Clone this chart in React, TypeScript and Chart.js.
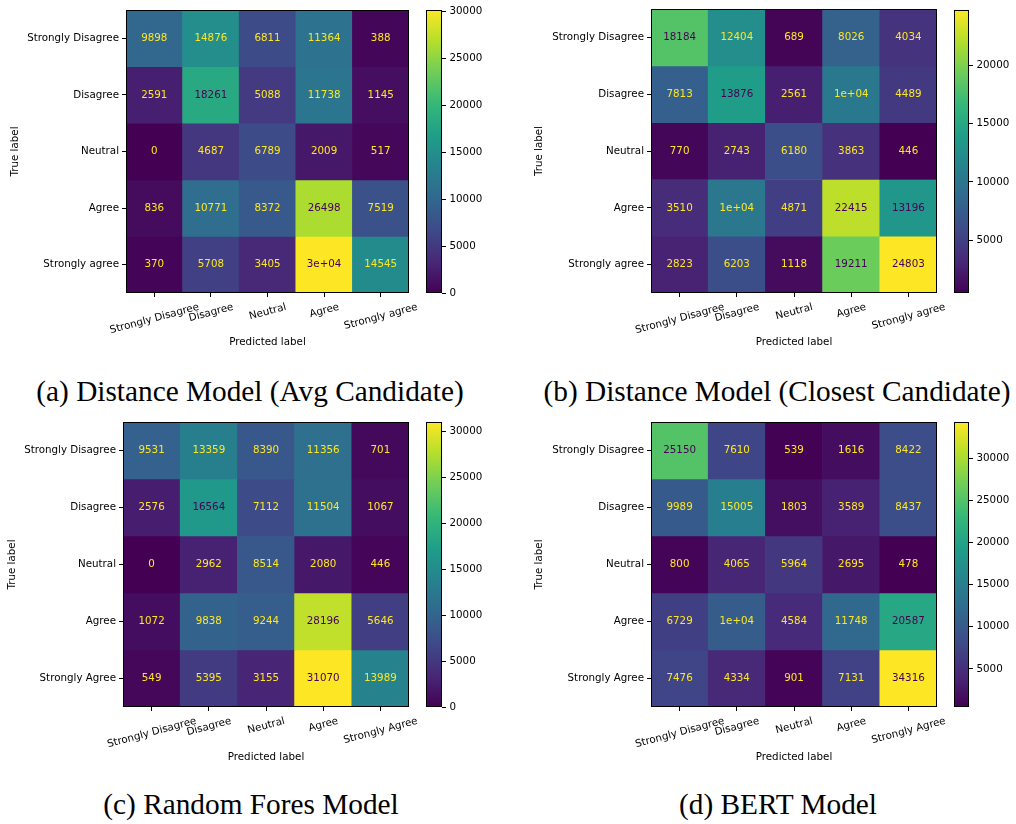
import React, { useEffect, useRef } from "react";
import { Chart, registerables } from "chart.js";
Chart.register(...registerables);

// ---------- data ----------
const labelsLower = ["Strongly Disagree", "Disagree", "Neutral", "Agree", "Strongly agree"];
const labelsUpper = ["Strongly Disagree", "Disagree", "Neutral", "Agree", "Strongly Agree"];

// rows = true label, columns = predicted label
const matrixAvg = [
  [9898, 14876, 6811, 11364, 388],
  [2591, 18261, 5088, 11738, 1145],
  [0, 4687, 6789, 2009, 517],
  [836, 10771, 8372, 26498, 7519],
  [370, 5708, 3405, 30180, 14545],
];
const matrixClosest = [
  [18184, 12404, 689, 8026, 4034],
  [7813, 13876, 2561, 10230, 4489],
  [770, 2743, 6180, 3863, 446],
  [3510, 10150, 4871, 22415, 13196],
  [2823, 6203, 1118, 19211, 24803],
];
const matrixForest = [
  [9531, 13359, 8390, 11356, 701],
  [2576, 16564, 7112, 11504, 1067],
  [0, 2962, 8514, 2080, 446],
  [1072, 9838, 9244, 28196, 5646],
  [549, 5395, 3155, 31070, 13989],
];
const matrixBert = [
  [25150, 7610, 539, 1616, 8422],
  [9989, 15005, 1803, 3589, 8437],
  [800, 4065, 5964, 2695, 478],
  [6729, 10300, 4584, 11748, 20587],
  [7476, 4334, 901, 7131, 34316],
];

const cbTicksAvg = [0, 5000, 10000, 15000, 20000, 25000, 30000];
const cbTicksClosest = [5000, 10000, 15000, 20000];
const cbTicksForest = [0, 5000, 10000, 15000, 20000, 25000, 30000];
const cbTicksBert = [5000, 10000, 15000, 20000, 25000, 30000];

const captionAvg = "(a) Distance Model (Avg Candidate)";
const captionClosest = "(b) Distance Model (Closest Candidate)";
const captionForest = "(c) Random Fores Model";
const captionBert = "(d) BERT Model";

// ---------- style ----------
const FONT = "DejaVu Sans";
const FS = 10.3;
const ROT = (15 * Math.PI) / 180;
const VIRIDIS = ["#440154", "#482878", "#3E4A89", "#31688E", "#26828E", "#1F9E89", "#35B779", "#6DCD59", "#B4DE2C", "#FDE725"];

function hexToRgb(h: string) {
  return [parseInt(h.slice(1, 3), 16), parseInt(h.slice(3, 5), 16), parseInt(h.slice(5, 7), 16)];
}
function viridis(t: number) {
  t = Math.max(0, Math.min(1, t));
  const n = VIRIDIS.length - 1;
  const p = t * n;
  const i = Math.min(Math.floor(p), n - 1);
  const f = p - i;
  const a = hexToRgb(VIRIDIS[i]);
  const b = hexToRgb(VIRIDIS[i + 1]);
  const c = a.map((v, k) => Math.round(v + (b[k] - v) * f));
  return `rgb(${c[0]},${c[1]},${c[2]})`;
}

// sklearn ConfusionMatrixDisplay formatting (".2g" unless "d" is shorter)
function fmtCell(v: number) {
  const d = String(Math.round(v));
  let g: string;
  if (v === 0) g = "0";
  else {
    let e = Math.floor(Math.log10(Math.abs(v)));
    let m = Math.round((v / Math.pow(10, e)) * 10) / 10;
    if (m >= 10) {
      m /= 10;
      e += 1;
    }
    if (e < -4 || e >= 2) {
      const ms = m.toFixed(1).replace(/\.0$/, "");
      g = ms + "e" + (e < 0 ? "-" : "+") + String(Math.abs(e)).padStart(2, "0");
    } else g = String(Number(v.toPrecision(2)));
  }
  return d.length < g.length ? d : g;
}

type HeatGeom = {
  left: number; top: number; width: number; height: number;
  padTop: number; padRight: number; yAxisW: number; xAxisH: number;
  yTitlePad: number; xTitlePad: number;
};
type CbGeom = {
  left: number; top: number; width: number; height: number;
  padLeft: number; padTop: number; padBottom: number; axisW: number;
};

function ChartCanvas({ left, top, width, height, makeConfig }: any) {
  const ref = useRef<HTMLCanvasElement>(null);
  useEffect(() => {
    const chart = new Chart(ref.current as HTMLCanvasElement, makeConfig());
    return () => chart.destroy();
  }, []);
  return (
    <canvas
      ref={ref}
      width={width}
      height={height}
      style={{ position: "absolute", left, top, width, height }}
    />
  );
}

function heatConfig(matrix: number[][], rowLabels: string[], colLabels: string[], g: HeatGeom) {
  const flat = matrix.flat();
  const vmin = Math.min(...flat);
  const vmax = Math.max(...flat);
  const thresh = (vmin + vmax) / 2;
  const font = { family: FONT, size: FS };
  const plugin = {
    id: "heatExtras",
    afterDatasetsDraw(chart: any) {
      const ctx = chart.ctx;
      ctx.save();
      ctx.font = `${FS}px ${FONT}`;
      ctx.textAlign = "center";
      ctx.textBaseline = "middle";
      chart.data.datasets.forEach((_: any, i: number) => {
        const meta = chart.getDatasetMeta(i);
        meta.data.forEach((el: any, j: number) => {
          const v = matrix[i][j];
          const p = el.getCenterPoint();
          ctx.fillStyle = v < thresh ? viridis(1) : viridis(0);
          ctx.fillText(fmtCell(v), p.x, p.y);
        });
      });
      const a = chart.chartArea;
      ctx.strokeStyle = "#000";
      ctx.lineWidth = 1;
      ctx.strokeRect(Math.round(a.left) + 0.5, Math.round(a.top) + 0.5, Math.round(a.right - a.left) - 1, Math.round(a.bottom - a.top) - 1);
      ctx.restore();
    },
    afterDraw(chart: any) {
      const ctx = chart.ctx;
      const xs = chart.scales.x;
      ctx.save();
      ctx.font = `${FS}px ${FONT}`;
      ctx.fillStyle = "#000";
      ctx.textAlign = "center";
      ctx.textBaseline = "alphabetic";
      colLabels.forEach((lab, j) => {
        const x = xs.getPixelForTick(j);
        const w = ctx.measureText(lab).width;
        const h = FS * 1.164;
        const bh = w * Math.sin(ROT) + h * Math.cos(ROT);
        const cy = chart.chartArea.bottom + 7.3 + bh / 2;
        ctx.save();
        ctx.translate(x, cy);
        ctx.rotate(-ROT);
        ctx.fillText(lab, 0, FS * 0.346);
        ctx.restore();
      });
      ctx.restore();
    },
  };
  return {
    type: "bar",
    data: {
      labels: colLabels,
      datasets: matrix.map((row, i) => ({
        data: row.map(() => [i, i + 1]),
        backgroundColor: row.map((v) => viridis((v - vmin) / (vmax - vmin))),
        borderWidth: 0,
        grouped: false,
        barPercentage: 1,
        categoryPercentage: 1,
      })),
    },
    options: {
      responsive: false,
      animation: false,
      events: [],
      layout: { padding: { left: 0, top: g.padTop, right: g.padRight, bottom: 0 } },
      plugins: { legend: { display: false }, tooltip: { enabled: false } },
      scales: {
        x: {
          type: "category",
          offset: true,
          grid: { offset: false, drawOnChartArea: false, drawTicks: true, tickLength: 4, color: "#000", lineWidth: 1 },
          border: { display: false },
          ticks: { display: false },
          title: { display: true, text: "Predicted label", color: "#000", font, padding: { top: 0, bottom: g.xTitlePad } },
          afterFit: (s: any) => {
            s.height = g.xAxisH;
          },
        },
        y: {
          type: "linear",
          min: 0,
          max: rowLabels.length,
          reverse: true,
          afterBuildTicks: (s: any) => {
            s.ticks = rowLabels.map((_, i) => ({ value: i + 0.5 }));
          },
          ticks: {
            autoSkip: false,
            color: "#000",
            font,
            padding: 3,
            callback: (v: any) => rowLabels[Math.floor(Number(v))],
          },
          grid: { drawOnChartArea: false, drawTicks: true, tickLength: 4, color: "#000", lineWidth: 1 },
          border: { display: false },
          title: { display: true, text: "True label", color: "#000", font, padding: { top: g.yTitlePad, bottom: 0 } },
          afterFit: (s: any) => {
            s.width = g.yAxisW;
          },
        },
      },
    },
    plugins: [plugin],
  };
}

function cbConfig(matrix: number[][], ticks: number[], g: CbGeom) {
  const flat = matrix.flat();
  const vmin = Math.min(...flat);
  const vmax = Math.max(...flat);
  const font = { family: FONT, size: FS };
  const frame = {
    id: "cbFrame",
    afterDatasetsDraw(chart: any) {
      const ctx = chart.ctx;
      const a = chart.chartArea;
      ctx.save();
      ctx.strokeStyle = "#000";
      ctx.lineWidth = 1;
      ctx.strokeRect(Math.round(a.left) + 0.5, Math.round(a.top) + 0.5, Math.round(a.right - a.left) - 1, Math.round(a.bottom - a.top) - 1);
      ctx.restore();
    },
  };
  return {
    type: "bar",
    data: {
      labels: [""],
      datasets: [
        {
          data: [[vmin, vmax]],
          backgroundColor: (c: any) => {
            const ch = c.chart;
            const ys = ch.scales.y;
            if (!ys || !ch.chartArea) return "rgba(0,0,0,0)";
            const y0 = ys.getPixelForValue(vmin);
            const y1 = ys.getPixelForValue(vmax);
            const grad = ch.ctx.createLinearGradient(0, y0, 0, y1);
            VIRIDIS.forEach((col, k) => grad.addColorStop(k / (VIRIDIS.length - 1), col));
            return grad;
          },
          borderWidth: 0,
          barPercentage: 1,
          categoryPercentage: 1,
        },
      ],
    },
    options: {
      responsive: false,
      animation: false,
      events: [],
      layout: { padding: { left: g.padLeft, top: g.padTop, right: 0, bottom: g.padBottom } },
      plugins: { legend: { display: false }, tooltip: { enabled: false } },
      scales: {
        x: { display: false },
        y: {
          position: "right",
          min: vmin,
          max: vmax,
          afterBuildTicks: (s: any) => {
            s.ticks = ticks.map((v) => ({ value: v }));
          },
          ticks: { color: "#000", font, padding: 3.5, callback: (v: any) => String(v) },
          grid: { drawOnChartArea: false, drawTicks: true, tickLength: 4, color: "#000", lineWidth: 1 },
          border: { display: false },
          afterFit: (s: any) => {
            s.width = g.axisW;
          },
        },
      },
    },
    plugins: [frame],
  };
}

function Panel({ matrix, labels, ticks, heat, cb }: any) {
  return (
    <>
      <ChartCanvas left={heat.left} top={heat.top} width={heat.width} height={heat.height}
        makeConfig={() => heatConfig(matrix, labels, labels, heat)} />
      <ChartCanvas left={cb.left} top={cb.top} width={cb.width} height={cb.height}
        makeConfig={() => cbConfig(matrix, ticks, cb)} />
    </>
  );
}

function Caption({ text, cx, cy }: { text: string; cx: number; cy: number }) {
  return (
    <div
      style={{
        position: "absolute",
        left: cx - 260,
        top: cy - 16,
        width: 520,
        height: 32,
        lineHeight: "32px",
        textAlign: "center",
        fontFamily: "'Liberation Serif', serif",
        fontSize: 29.3,
        color: "#000",
        whiteSpace: "nowrap",
      }}
    >
      {text}
    </div>
  );
}

const geomA = {
  heat: { left: 0, top: 0, width: 420, height: 360, padTop: 10, padRight: 11, yAxisW: 126, xAxisH: 67, yTitlePad: 8.8, xTitlePad: 11.8 },
  cb: { left: 420, top: 0, width: 80, height: 360, padLeft: 6, padTop: 10, padBottom: 67, axisW: 58 },
};
const geomB = {
  heat: { left: 500, top: 0, width: 450, height: 360, padTop: 6, padRight: 13, yAxisW: 151, xAxisH: 67, yTitlePad: 33.3, xTitlePad: 11.8 },
  cb: { left: 950, top: 0, width: 66, height: 360, padLeft: 4, padTop: 6, padBottom: 67, axisW: 47 },
};
const geomC = {
  heat: { left: 0, top: 410, width: 420, height: 360, padTop: 12, padRight: 11, yAxisW: 123, xAxisH: 63, yTitlePad: 6.1, xTitlePad: 6.1 },
  cb: { left: 420, top: 410, width: 80, height: 360, padLeft: 6, padTop: 12, padBottom: 63, axisW: 58 },
};
const geomD = {
  heat: { left: 500, top: 410, width: 450, height: 360, padTop: 12, padRight: 13, yAxisW: 151, xAxisH: 63, yTitlePad: 33.3, xTitlePad: 6.1 },
  cb: { left: 950, top: 410, width: 66, height: 360, padLeft: 4, padTop: 12, padBottom: 63, axisW: 47 },
};

export default function App() {
  return (
    <div style={{ position: "absolute", left: 0, top: 0, width: 1016, height: 824, background: "#fff", overflow: "hidden" }}>
      <Panel matrix={matrixAvg} labels={labelsLower} ticks={cbTicksAvg} heat={geomA.heat} cb={geomA.cb} />
      <Panel matrix={matrixClosest} labels={labelsLower} ticks={cbTicksClosest} heat={geomB.heat} cb={geomB.cb} />
      <Panel matrix={matrixForest} labels={labelsUpper} ticks={cbTicksForest} heat={geomC.heat} cb={geomC.cb} />
      <Panel matrix={matrixBert} labels={labelsUpper} ticks={cbTicksBert} heat={geomD.heat} cb={geomD.cb} />
      <Caption text={captionAvg} cx={250} cy={391} />
      <Caption text={captionClosest} cx={777} cy={391} />
      <Caption text={captionForest} cx={251} cy={804} />
      <Caption text={captionBert} cx={778} cy={804} />
    </div>
  );
}
